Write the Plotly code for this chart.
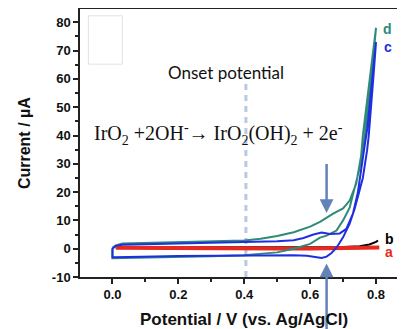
import plotly.graph_objects as go

# ---- data ----
a_x = [0.01, 0.1, 0.2, 0.3, 0.4, 0.5, 0.6, 0.7, 0.75, 0.81]
a_y = [0.3, 0.2, 0.1, 0.1, 0.1, 0.1, 0.1, 0.2, 0.3, 0.4]

b_x = [0.01, 0.1, 0.2, 0.3, 0.4, 0.5, 0.6, 0.7, 0.75, 0.78, 0.80, 0.806]
b_y = [0.4, 0.4, 0.4, 0.4, 0.4, 0.4, 0.5, 0.6, 0.9, 1.5, 2.4, 2.9]

c_x = [0.0, 0.01, 0.03, 0.1, 0.2, 0.3, 0.4, 0.5, 0.55, 0.58, 0.61, 0.635, 0.66,
       0.69, 0.71, 0.73, 0.745, 0.757, 0.765, 0.773, 0.78, 0.79, 0.80,
       0.793, 0.786, 0.778, 0.773, 0.76, 0.75, 0.735, 0.72, 0.70, 0.68, 0.665,
       0.65, 0.635, 0.62, 0.59, 0.55, 0.4, 0.2, 0.05, 0.0, 0.0]
c_y = [0.0, 1.0, 1.4, 1.6, 1.8, 2.0, 2.2, 2.6, 3.0, 3.8, 5.0, 5.7, 5.2,
       5.4, 7.0, 12.4, 20.0, 28.7, 36.0, 42.0, 50.0, 62.0, 73.0,
       62.0, 50.0, 40.0, 34.8, 25.0, 20.6, 14.0, 8.9, 4.0, 0.35, -1.5,
       -2.8, -3.3, -3.0, -2.5, -2.3, -2.4, -2.6, -2.9, -3.0, 0.0]

d_x = [0.0, 0.01, 0.03, 0.1, 0.2, 0.3, 0.4, 0.45, 0.5, 0.55, 0.6, 0.63, 0.65,
       0.67, 0.70, 0.72, 0.74, 0.755, 0.76, 0.77, 0.78, 0.79, 0.80,
       0.792, 0.783, 0.775, 0.767, 0.76, 0.745, 0.73, 0.72, 0.70, 0.68, 0.65,
       0.63, 0.60, 0.55, 0.5, 0.4, 0.3, 0.2, 0.1, 0.02, 0.0, 0.0]
d_y = [0.3, 1.2, 1.8, 2.0, 2.2, 2.5, 2.9, 3.5, 4.5, 5.8, 7.8, 9.5, 11.0,
       12.4, 14.2, 17.0, 23.0, 33.0, 40.0, 50.0, 60.0, 69.0, 78.0,
       68.0, 58.0, 48.0, 40.0, 33.0, 26.0, 19.0, 14.5, 10.0, 6.4, 4.6,
       3.9, 1.7, 0.0, -1.3, -2.3, -2.7, -3.0, -3.2, -3.4, -3.4, 0.3]

x_ticks = [0.0, 0.2, 0.4, 0.6, 0.8]
y_ticks = [-10, 0, 10, 20, 30, 40, 50, 60, 70, 80]

onset_x = 0.405
arrow_x = 0.65

RED = "#e8291f"
BLUE = "#1f2fe0"
TEAL = "#2f8a78"
ARROW = "#6282b8"

fig = go.Figure()
fig.add_trace(go.Scatter(x=b_x, y=b_y, mode="lines", line=dict(color="black", width=2)))
fig.add_trace(go.Scatter(x=a_x, y=a_y, mode="lines", line=dict(color=RED, width=4)))
fig.add_trace(go.Scatter(x=d_x, y=d_y, mode="lines", line=dict(color=TEAL, width=2)))
fig.add_trace(go.Scatter(x=c_x, y=c_y, mode="lines", line=dict(color=BLUE, width=2)))

# onset dashed line
fig.add_shape(type="line", x0=onset_x, x1=onset_x, y0=-10, y1=61, xref="x", yref="y",
              line=dict(color="#b9c9e2", width=3, dash="6px,5px"), layer="below")
# small gray box artifact
fig.add_shape(type="rect", x0=-0.073, x1=0.03, y0=65.2, y1=82.3, xref="x", yref="y",
              line=dict(color="#e2e2e2", width=1))

fig.add_annotation(x=0.345, y=62.2, text="Onset potential", showarrow=False,
                   font=dict(family="Lato", size=17, color="#111"))
fig.add_annotation(x=0.322, y=40.5,
                   text="IrO<sub>2</sub> +2OH<sup>-</sup>→ IrO<sub>2</sub>(OH)<sub>2</sub> + 2e<sup>-</sup>",
                   showarrow=False, font=dict(family="Liberation Serif", size=20, color="#111"))

# arrows
fig.add_annotation(x=arrow_x, y=12.6, ax=arrow_x, ay=30.5, xref="x", yref="y", axref="x", ayref="y",
                   showarrow=True, arrowhead=2, arrowsize=1.1, arrowwidth=2.5, arrowcolor=ARROW, text="")
fig.add_annotation(x=arrow_x, y=-5.2, ax=arrow_x, ay=-32, xref="x", yref="y", axref="x", ayref="y",
                   showarrow=True, arrowhead=2, arrowsize=1.1, arrowwidth=2.5, arrowcolor=ARROW, text="")

# curve labels
for lbl, xx, yy, col in [("d", 0.835, 77.5, TEAL), ("c", 0.835, 71.2, BLUE),
                         ("b", 0.84, 3.5, "black"), ("a", 0.84, -1.3, RED)]:
    fig.add_annotation(x=xx, y=yy, text="<b>%s</b>" % lbl, showarrow=False,
                       font=dict(family="Liberation Sans", size=14, color=col))

# axis titles
fig.add_annotation(xref="paper", yref="paper", x=0.505, y=-0.157, xanchor="center", yanchor="middle",
                   text="<b>Potential / V (vs. Ag/AgCl)</b>",
                   showarrow=False, font=dict(family="Liberation Sans", size=17, color="#111"))
fig.add_annotation(xref="paper", yref="paper", x=-0.172, y=0.5, xanchor="center", yanchor="middle",
                   text="<b>Current / µA</b>", textangle=-90,
                   showarrow=False, font=dict(family="Liberation Sans", size=16, color="#111"))

# page body has an 8px margin, so the figure's margins are reduced by 8px on the left/top
fig.update_layout(
    width=405, height=329,
    margin=dict(l=72, r=8, t=1, b=60, autoexpand=False),
    paper_bgcolor="white", plot_bgcolor="white",
    showlegend=False,
    font=dict(family="Liberation Sans", color="#111"),
)
fig.update_xaxes(range=[-0.0985, 0.888], tickvals=x_ticks, ticktext=["<b>%.1f</b>" % v for v in x_ticks],
                 showgrid=False, zeroline=False, showline=True, linecolor="#222", linewidth=1.5,
                 mirror=True, ticks="outside", ticklen=5, tickwidth=1.5, tickcolor="#222",
                 minor=dict(dtick=0.1, tick0=0, ticks="outside", ticklen=3, tickcolor="#222"),
                 tickfont=dict(size=13, family="Liberation Sans"), automargin=False)
fig.update_yaxes(range=[-10, 84.7], tickvals=y_ticks, ticktext=["<b>%d</b>" % v for v in y_ticks],
                 showgrid=False, zeroline=False, showline=True, linecolor="#222", linewidth=1.5,
                 ticks="outside", ticklen=5, tickwidth=1.5, tickcolor="#222",
                 minor=dict(dtick=5, tick0=0, ticks="outside", ticklen=3, tickcolor="#222"),
                 tickfont=dict(size=13, family="Liberation Sans"), automargin=False)

fig.write_html("out.html")
